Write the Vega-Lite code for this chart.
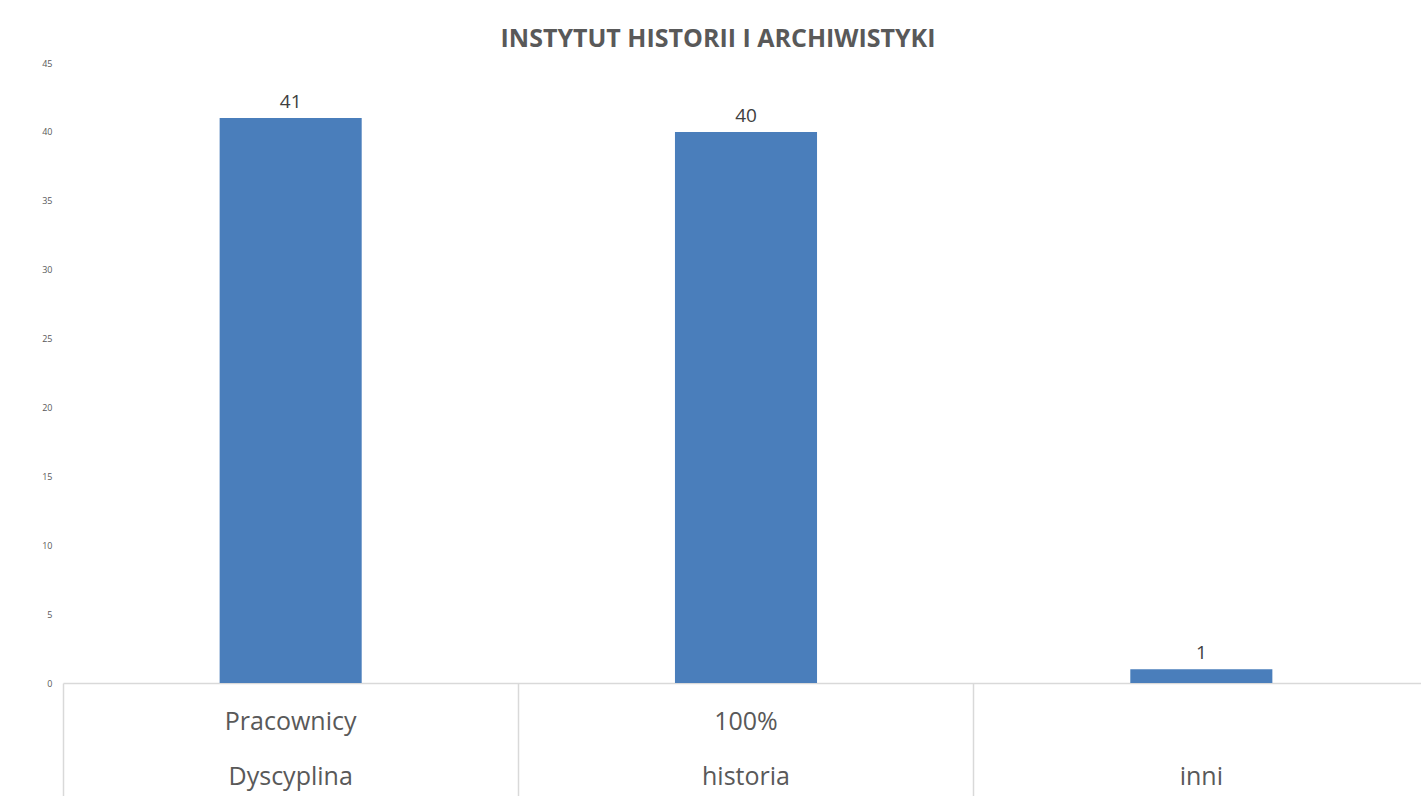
{
  "$schema": "https://vega.github.io/schema/vega-lite/v6.json",
  "width": 1358,
  "height": 620,
  "autosize": {"type": "none"},
  "padding": {"left": 63, "top": 63, "right": 0, "bottom": 113},
  "background": "white",
  "config": {"view": {"stroke": null}, "font": "Open Sans"},
  "title": {
    "text": "INSTYTUT HISTORII I ARCHIWISTYKI",
    "anchor": "middle",
    "dx": -24,
    "offset": 7,
    "fontSize": 25,
    "fontWeight": "bold",
    "font": "Open Sans",
    "color": "#595959"
  },
  "data": {
    "values": [
      {"kategoria": "Pracownicy|Dyscyplina", "liczba": 41},
      {"kategoria": "100%|historia", "liczba": 40},
      {"kategoria": " |inni", "liczba": 1}
    ]
  },
  "encoding": {
    "x": {
      "field": "kategoria",
      "type": "nominal",
      "sort": null,
      "scale": {"range": [0, 1366], "paddingInner": 0, "paddingOuter": 0},
      "axis": {
        "title": null,
        "labelAngle": 0,
        "labelExpr": "split(datum.value, '|')",
        "labelFontSize": 25,
        "labelColor": "#595959",
        "labelFont": "Open Sans",
        "labelLineHeight": 55,
        "labelBaseline": "top",
        "labelPadding": -94,
        "bandPosition": 0,
        "ticks": true,
        "tickSize": 120,
        "tickColor": "#d9d9d9",
        "tickWidth": 1.5,
        "domainColor": "#d9d9d9",
        "domainWidth": 1.5,
        "labelOverlap": false
      }
    },
    "y": {
      "field": "liczba",
      "type": "quantitative",
      "scale": {"domain": [0, 45]},
      "axis": {
        "title": null,
        "values": [0, 5, 10, 15, 20, 25, 30, 35, 40, 45],
        "grid": false,
        "ticks": false,
        "domain": false,
        "labelFontSize": 9,
        "labelColor": "#595959",
        "labelPadding": 11
      }
    }
  },
  "layer": [
    {
      "mark": {"type": "bar", "color": "#4a7ebb", "width": {"band": 0.312}}
    },
    {
      "mark": {"type": "text", "baseline": "alphabetic", "dy": -10, "fontSize": 19, "color": "#404040", "font": "Open Sans"},
      "encoding": {"text": {"field": "liczba", "type": "quantitative"}}
    }
  ]
}
